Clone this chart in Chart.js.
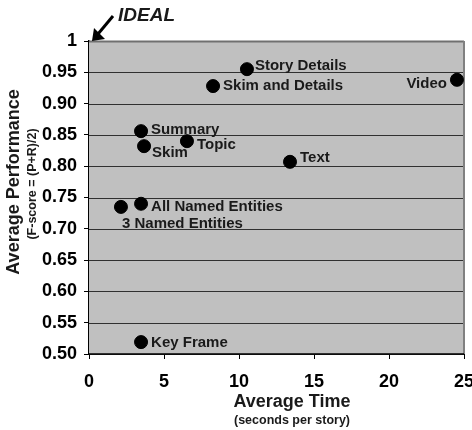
<!DOCTYPE html>
<html>
<head>
<meta charset="utf-8">
<script src="https://cdn.jsdelivr.net/npm/chart.js"></script>
<style>
  body { margin: 0; background: #fff; }
  #wrap { width: 472px; height: 430px; }
</style>
</head>
<body>
<div id="wrap"><canvas id="chart" width="472" height="430"></canvas></div>
<script>
var methods = ['Story Details', 'Skim and Details', 'Video', 'Summary', 'Skim', 'Topic', 'Text', 'All Named Entities', '3 Named Entities', 'Key Frame'];
var times = [10.53, 8.27, 24.53, 3.47, 3.67, 6.53, 13.4, 3.47, 2.13, 3.47];
var scores = [0.955, 0.928, 0.938, 0.856, 0.832, 0.840, 0.807, 0.740, 0.735, 0.519];
var xTicks = [0, 5, 10, 15, 20, 25];
var yTicks = [0.5, 0.55, 0.6, 0.65, 0.7, 0.75, 0.8, 0.85, 0.9, 0.95, 1];

// where each label sits relative to its dot
var labelPlace = {
  'Story Details': { dx: 8, dy: -3, align: 'left' },
  'Skim and Details': { dx: 10, dy: 0, align: 'left' },
  'Video': { dx: -10, dy: 4, align: 'right' },
  'Summary': { dx: 10, dy: -1, align: 'left' },
  'Skim': { dx: 8, dy: 7, align: 'left' },
  'Topic': { dx: 10, dy: 4, align: 'left' },
  'Text': { dx: 10, dy: -4, align: 'left' },
  'All Named Entities': { dx: 10, dy: 3, align: 'left' },
  '3 Named Entities': { dx: 1, dy: 17, align: 'left' },
  'Key Frame': { dx: 10, dy: 1, align: 'left' }
};

var points = [];
for (var i = 0; i < methods.length; i++) {
  points.push({ x: times[i], y: scores[i], name: methods[i] });
}

var FONT = '"Liberation Sans", Arial, sans-serif';

// plot box from the scales themselves
function plotBox(chart) {
  var xs = chart.scales.x, ys = chart.scales.y;
  return {
    l: xs.getPixelForValue(xs.min), r: xs.getPixelForValue(xs.max),
    t: ys.getPixelForValue(ys.max), b: ys.getPixelForValue(ys.min)
  };
}

var plotBg = {
  id: 'plotBg',
  beforeDatasetsDraw: function (chart) {
    var p = plotBox(chart), c = chart.ctx, ys = chart.scales.y;
    c.save();
    c.fillStyle = '#c0c0c0';
    c.fillRect(p.l, p.t, p.r - p.l, p.b - p.t);
    yTicks.forEach(function (v) {
      var y = Math.round(ys.getPixelForValue(v)) + 0.5;
      c.strokeStyle = v >= 0.999 ? '#707070' : '#303030';
      c.lineWidth = v >= 0.999 ? 2 : 1;
      c.beginPath();
      c.moveTo(p.l, y);
      c.lineTo(p.r, y);
      c.stroke();
    });
    c.strokeStyle = '#808080';
    c.lineWidth = 2;
    c.beginPath();
    c.moveTo(p.r, p.t);
    c.lineTo(p.r, p.b);
    c.stroke();
    c.strokeStyle = '#000';
    c.lineWidth = 1.5;
    c.beginPath();
    c.moveTo(p.l, p.b);
    c.lineTo(p.r, p.b);
    c.stroke();
    c.restore();
  },
  afterDraw: function (chart) {
    var p = plotBox(chart), c = chart.ctx;
    c.save();

    // point labels
    var meta = chart.getDatasetMeta(0);
    c.fillStyle = '#1a1a1a';
    c.font = 'bold 15px ' + FONT;
    c.textBaseline = 'middle';
    meta.data.forEach(function (el, i) {
      var q = labelPlace[methods[i]];
      c.textAlign = q.align;
      c.fillText(methods[i], el.x + q.dx, el.y + q.dy);
    });

    // axis titles
    c.textAlign = 'center';
    c.font = 'bold 18px ' + FONT;
    c.fillText('Average Time', 292, 402);
    c.font = 'bold 12.5px ' + FONT;
    c.fillText('(seconds per story)', 292, 421);

    c.save();
    c.translate(14, 182);
    c.rotate(-Math.PI / 2);
    c.font = 'bold 18px ' + FONT;
    c.fillText('Average Performance', 0, 0);
    c.restore();
    c.save();
    c.translate(33, 184);
    c.rotate(-Math.PI / 2);
    c.font = 'bold 12.5px ' + FONT;
    c.fillText('(F-score = (P+R)/2)', 0, 0);
    c.restore();

    // IDEAL marker
    c.font = 'italic bold 19px ' + FONT;
    c.textAlign = 'left';
    c.fillText('IDEAL', 118, 16);
    var x0 = p.l + 3, y0 = p.t;
    c.strokeStyle = '#000';
    c.lineWidth = 3;
    c.beginPath();
    c.moveTo(113, 16);
    c.lineTo(x0 + 6, y0 - 7);
    c.stroke();
    c.fillStyle = '#000';
    c.beginPath();
    c.moveTo(x0, y0);
    c.lineTo(x0 + 2, y0 - 13);
    c.lineTo(x0 + 13, y0 - 2);
    c.closePath();
    c.fill();
    c.restore();
  }
};

var ctx = document.getElementById('chart').getContext('2d');
var chart = new Chart(ctx, {
  type: 'scatter',
  data: {
    datasets: [{
      label: 'Performance',
      data: points,
      backgroundColor: '#000',
      borderColor: '#000',
      pointRadius: 6.5,
      pointHoverRadius: 6.5
    }]
  },
  options: {
    responsive: false,
    animation: false,
    layout: { padding: { left: 0, right: 8, top: 41, bottom: 0 } },
    plugins: {
      legend: { display: false },
      tooltip: { enabled: false }
    },
    scales: {
      x: {
        type: 'linear',
        min: 0,
        max: 25,
        afterBuildTicks: function (axis) {
          axis.ticks = xTicks.map(function (v) { return { value: v }; });
        },
        ticks: {
          color: '#000',
          font: { family: FONT, size: 18, weight: 'bold' },
          padding: 12,
          maxRotation: 0
        },
        grid: {
          drawOnChartArea: false,
          color: '#000',
          tickLength: 5
        },
        border: { display: false },
        afterFit: function (axis) {
          axis.height = 76;
          axis.paddingLeft = 0;
          axis.paddingRight = 0;
        }
      },
      y: {
        type: 'linear',
        min: 0.5,
        max: 1,
        afterBuildTicks: function (axis) {
          axis.ticks = yTicks.map(function (v) { return { value: v }; });
        },
        ticks: {
          color: '#000',
          font: { family: FONT, size: 18, weight: 'bold' },
          padding: 7,
          callback: function (v) {
            return Math.abs(v - 1) < 1e-9 ? '1' : Number(v).toFixed(2);
          }
        },
        grid: {
          drawOnChartArea: false,
          color: '#000',
          tickLength: 5
        },
        border: { color: '#000', width: 1.5 },
        afterFit: function (axis) {
          axis.width = 89;
          axis.paddingTop = 0;
          axis.paddingBottom = 0;
        }
      }
    }
  },
  plugins: [plotBg]
});
</script>
</body>
</html>
